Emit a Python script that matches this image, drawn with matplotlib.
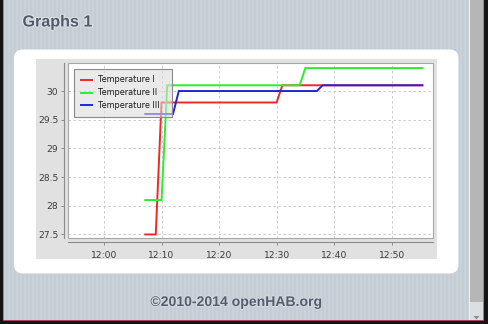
import numpy as np
import pandas as pd
import matplotlib
matplotlib.use("Agg")
import matplotlib.pyplot as plt
import matplotlib.dates as mdates
from matplotlib.patches import Rectangle, FancyBboxPatch
from matplotlib.lines import Line2D
import matplotlib.patheffects as pe

W, H = 489, 324

# ---- data ----
series_names = ["Temperature I", "Temperature II", "Temperature III"]
series_colors = ["#f02828", "#2cee2c", "#2424e0"]
times_1 = ["12:07:00", "12:09:00", "12:10:00", "12:30:00", "12:31:00", "12:55:30"]
temps_1 = [27.5, 27.5, 29.8, 29.8, 30.1, 30.1]
times_2 = ["12:07:00", "12:10:00", "12:11:00", "12:34:00", "12:35:00", "12:55:30"]
temps_2 = [28.1, 28.1, 30.1, 30.1, 30.4, 30.4]
times_3 = ["12:07:00", "12:12:00", "12:13:00", "12:37:00", "12:38:00", "12:55:30"]
temps_3 = [29.6, 29.6, 30.0, 30.0, 30.1, 30.1]
x_ticks = ["12:00", "12:10", "12:20", "12:30", "12:40", "12:50"]
y_ticks = [27.5, 28, 28.5, 29, 29.5, 30]
y_tick_labels = ["27.5", "28", "28.5", "29", "29.5", "30"]
page_title = "Graphs 1"
footer_text = "©2010-2014 openHAB.org"
day = "2014-01-01 "


def ts(t):
    return pd.Timestamp(day + t)


def box(x0, y0, x1, y1):
    return (x0 / W, 1 - y1 / H, (x1 - x0) / W, (y1 - y0) / H)


fig = plt.figure(figsize=(W / 100, H / 100), dpi=100)

# striped page background
cols = np.arange(W)
light = np.array([201, 209, 217]) / 255
dark = np.array([196, 204, 212]) / 255
img = np.where(((cols // 2) % 2 == 0)[None, :, None], light, dark)
img = np.repeat(img, H, axis=0)
fig.figimage(img, xo=0, yo=0, zorder=-30)

# white rounded panel
x0, y0, w, h = box(14, 49.5, 458.5, 273.5)
panel = FancyBboxPatch((x0 * W, y0 * H), w * W, h * H,
                       boxstyle="round,pad=0,rounding_size=9",
                       facecolor="white", edgecolor="none", zorder=-20)
panel.set_transform(matplotlib.transforms.IdentityTransform())
fig.patches.append(panel)

# chart grey background
cb = box(36, 59, 437, 259)
fig.patches.append(Rectangle(cb[:2], cb[2], cb[3], transform=fig.transFigure,
                             facecolor="#e1e1e1", edgecolor="none", zorder=-10))

# plot area
ax = fig.add_axes(box(68.3, 62.5, 433.3, 238.2))
ax.set_facecolor("white")
ax.set_zorder(1)

for t, v, c in zip([times_1, times_2, times_3], [temps_1, temps_2, temps_3], series_colors):
    ax.plot([ts(s) for s in t], v, color=c, lw=1.4, solid_joinstyle="miter",
            solid_capstyle="butt", zorder=3)

ax.set_xlim(ts("11:53:48"), ts("12:57:14"))
ax.set_ylim(27.435, 30.497)
ax.set_xticks([ts(s + ":00") for s in x_ticks])
ax.xaxis.set_major_formatter(mdates.DateFormatter("%H:%M"))
ax.set_yticks(y_ticks)
ax.set_yticklabels(y_tick_labels)

ax.grid(True, color="#c4c4c4", lw=0.6, linestyle=(0, (3, 3)))
ax.set_axisbelow(True)

for s in ["top", "right"]:
    ax.spines[s].set_visible(False)
for s in ["left", "bottom"]:
    ax.spines[s].set_position(("outward", 3))
    ax.spines[s].set_color("#8c8c8c")
    ax.spines[s].set_linewidth(0.8)
ax.add_patch(Rectangle((0, 0), 1, 1, transform=ax.transAxes, fill=False,
                       edgecolor="#a8a8a8", lw=0.8, clip_on=False, zorder=4))

ax.tick_params(axis="both", direction="out", length=2, width=0.7, color="#8c8c8c",
               labelsize=6.6, labelcolor="#3c3c3c")
ax.tick_params(axis="x", pad=4.2)
ax.tick_params(axis="y", pad=2.2)

# legend (drawn on the figure, over the plot)
lb = box(74, 69, 171.7, 117.3)
fig.patches.append(Rectangle(lb[:2], lb[2], lb[3], transform=fig.transFigure,
                             facecolor="#dcdcdc", alpha=0.6, edgecolor="none", zorder=5))
fig.patches.append(Rectangle(lb[:2], lb[2], lb[3], transform=fig.transFigure,
                             facecolor="none", edgecolor="#8a8a8a", lw=0.8, zorder=6))
row_y = [80, 92.6, 105.1]
for name, c, ry in zip(series_names, series_colors, row_y):
    fig.add_artist(Line2D([80.7 / W, 91.7 / W], [1 - ry / H, 1 - ry / H],
                          transform=fig.transFigure, color=c, lw=1.4, zorder=7))
    fig.text(98.3 / W, 1 - ry / H, name, fontsize=5.9, color="#1a1a1a",
             va="center", ha="left", zorder=7)

# page title and footer
fig.text(22.5 / W, 1 - 22 / H, page_title, fontsize=11.6, fontweight="bold",
         family="Liberation Sans", color="#535a6a", va="center", ha="left",
         path_effects=[pe.withStroke(linewidth=1.6, foreground="#dde2e7")])
fig.text(236 / W, 1 - 302 / H, footer_text, fontsize=10.1, fontweight="bold",
         family="Liberation Sans", color="#565d6c", va="center", ha="center",
         path_effects=[pe.withStroke(linewidth=1.2, foreground="#d6dce2")])

# scrollbar
sb = box(469, 0, 470, 324)
fig.patches.append(Rectangle(sb[:2], sb[2], sb[3], transform=fig.transFigure,
                             facecolor="#eef0f2", edgecolor="none", zorder=8))
sb = box(470, 0, 483.5, 302)
fig.patches.append(Rectangle(sb[:2], sb[2], sb[3], transform=fig.transFigure,
                             facecolor="#b6b6b6", edgecolor="none", zorder=8))
sb = box(470, 302, 483.5, 320)
fig.patches.append(Rectangle(sb[:2], sb[2], sb[3], transform=fig.transFigure,
                             facecolor="#dcdfe2", edgecolor="none", zorder=8))
fig.patches.append(matplotlib.patches.Polygon(
    [(473.5 / W, 1 - 316 / H), (479.5 / W, 1 - 316 / H), (476.5 / W, 1 - 319.5 / H)],
    closed=True, transform=fig.transFigure, facecolor="#8e8e8e", edgecolor="none", zorder=9))


# window borders
def frame(x0, y0, x1, y1, c):
    b = box(x0, y0, x1, y1)
    fig.patches.append(Rectangle(b[:2], b[2], b[3], transform=fig.transFigure,
                                 facecolor=c, edgecolor="none", zorder=10))


frame(0, 0, 3, 324, "#151515")
frame(3, 0, 4, 320, "#d26a82")
frame(484.5, 0, 489, 324, "#151515")
frame(483.5, 0, 484.5, 320, "#d26a82")
frame(3, 319.5, 484.5, 320.5, "#b04060")
frame(0, 320.5, 489, 324, "#151515")

fig.savefig("out.png", dpi=100)
